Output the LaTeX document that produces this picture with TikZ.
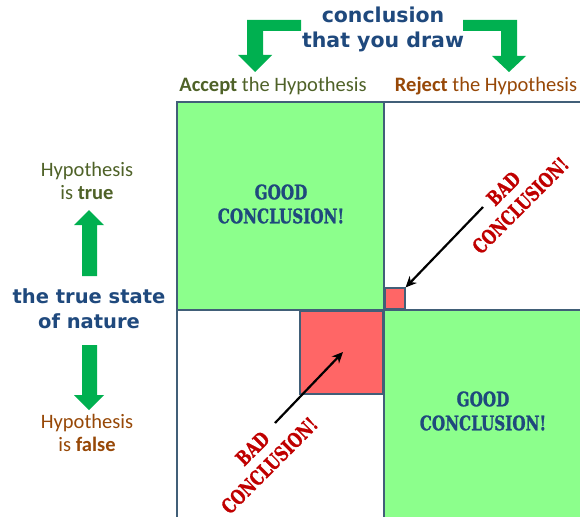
\documentclass[tikz,border=0pt]{standalone}
\usepackage{fontspec}
\setmainfont{Carlito}
\newfontfamily\headfont{DejaVu Sans}
\newfontfamily\stencilfont[FakeStretch=0.76, BoldFeatures={FakeBold=1.2}]{DejaVu Serif}
\definecolor{navy}{RGB}{31,73,125}
\definecolor{arrowgreen}{RGB}{0,176,80}
\definecolor{cellgreen}{RGB}{140,255,140}
\definecolor{cellred}{RGB}{255,102,102}
\definecolor{framecol}{RGB}{65,95,120}
\definecolor{olive}{RGB}{79,98,40}
\definecolor{rust}{RGB}{151,72,7}
\definecolor{badred}{RGB}{192,0,0}
\tikzset{
  cell/.style={draw=framecol, line width=1.6pt},
  bigarrow/.style={fill=arrowgreen, draw=none},
  headtext/.style={font=\headfont\bfseries\fontsize{20.5}{25}\selectfont, text=navy, align=center, inner sep=0pt},
  sidetext/.style={font=\headfont\bfseries\fontsize{19.5}{25}\selectfont, text=navy, align=center, inner sep=0pt},
  lbl/.style={font=\fontsize{20.5}{23}\selectfont, inner sep=0pt, align=center},
  goodtext/.style={font=\stencilfont\bfseries\fontsize{20}{24}\selectfont, text=navy, align=center, inner sep=0pt},
  badtext/.style={font=\stencilfont\bfseries\fontsize{20}{24}\selectfont, text=badred, align=center, inner sep=0pt, rotate=45},
  pointer/.style={-{Stealth[length=11pt,width=10pt]}, line width=2.2pt, black}
}
\usetikzlibrary{arrows.meta}
\begin{document}
\begin{tikzpicture}[x=1pt,y=-1pt]
\useasboundingbox (0,0) rectangle (580,516);
% cells
\fill[white] (0,0) rectangle (580,516);
\path[cell, fill=cellgreen] (177,102) rectangle (384,310);
\path[cell, fill=white] (384,102) rectangle (584,310);
\path[cell, fill=white] (177,310) rectangle (384,520);
\path[cell, fill=cellgreen] (384,310) rectangle (584,520);
\node[cell, fill=cellred, minimum width=20pt, minimum height=21pt, inner sep=0pt, anchor=south west] (smallred) at (384,310) {};
\node[cell, fill=cellred, minimum width=83pt, minimum height=83pt, inner sep=0pt, anchor=north east] (bigred) at (384,310) {};
% good texts
\node[goodtext] (good1) at (281,204) {GOOD\\CONCLUSION!};
\node[goodtext] (good2) at (483,411) {GOOD\\CONCLUSION!};
% bad texts
\node[badtext] (bad1) at (512,197) {BAD\\CONCLUSION!};
\node[badtext] (bad2) at (261,457) {BAD\\CONCLUSION!};
\coordinate (t1) at (483,207);
\coordinate (t2) at (275,423);
\draw[pointer] (t1) -- (smallred.north east);
\draw[pointer] (t2) -- (343,352) coordinate (h2);
% top header
\node[headtext] (concl) at (383,29) {conclusion\\that you draw};
\fill[bigarrow] (301,20) -- (247,20) -- (247,55) -- (238,55) -- (255,72) -- (272,55) -- (263,55) -- (263,31) -- (301,31) -- cycle;
\fill[bigarrow] (463,20) -- (517,20) -- (517,56) -- (526,56) -- (509,72) -- (492,56) -- (501,56) -- (501,31) -- (463,31) -- cycle;
\node[lbl, text=olive] (acc) at (273,86) {\textbf{Accept} the Hypothesis};
\node[lbl, text=rust] (rej) at (486,86) {\textbf{Reject} the Hypothesis};
% left side
\node[lbl, text=olive] (htrue) at (87,181) {Hypothesis\\is \textbf{true}};
\node[sidetext] (nature) at (89,309) {the true state\\of nature};
\node[lbl, text=rust] (hfalse) at (87,433) {Hypothesis\\is \textbf{false}};
\fill[bigarrow] (82,276) -- (82,225) -- (74,225) -- (89,210) -- (104,225) -- (97,225) -- (97,276) -- cycle;
\fill[bigarrow] (82,345) -- (82,395) -- (74,395) -- (89,410) -- (104,395) -- (97,395) -- (97,345) -- cycle;
\end{tikzpicture}
\end{document}
